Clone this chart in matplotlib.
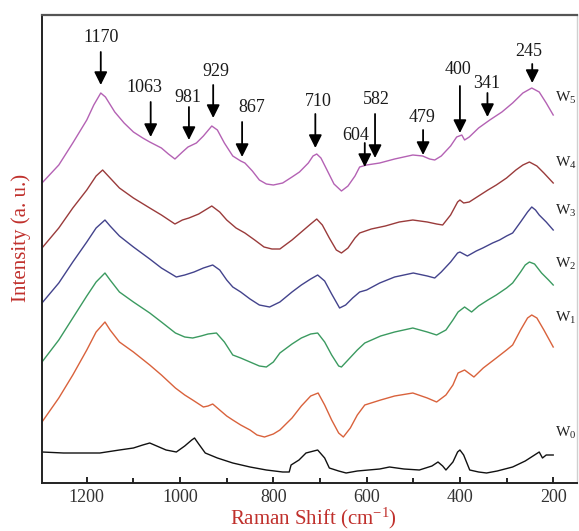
import numpy as np
import matplotlib
matplotlib.use("Agg")
import matplotlib.pyplot as plt

plt.rcParams['font.family'] = ['Liberation Serif', 'DejaVu Serif']
plt.rcParams['mathtext.fontset'] = 'custom'
plt.rcParams['mathtext.rm'] = 'Liberation Serif'
plt.rcParams['mathtext.default'] = 'regular'

# ---------------- data (Raman shift, cm^-1 ; stacked intensity, a.u.) ----------------
x_w5 = [1296,1260,1230,1200,1185,1170,1160,1140,1120,1100,1080,1065,1040,1025,1011,995,983,965,950,932,920,905,887,870,861,845,830,815,800,780,760,744,725,715,707,698,685,670,654,640,625,615,600,572,540,501,480,465,454,440,420,407,396,390,380,360,336,310,287,265,246,230,215,200]
y_w5 = [348,366,388,411,426,438,434,419,408,399,393,389,383,377,372,379,384,388,395,405,401,388,375,370,368,360,351,347,346,348,354,359,368,375,377,373,361,347,340,345,355,364,366,368,372,376,375,372,371,375,385,394,396,391,394,403,411,419,428,438,443,439,428,416]

x_w4 = [1296,1260,1230,1200,1180,1166,1150,1130,1100,1065,1040,1011,995,981,960,932,915,900,880,861,840,820,803,786,760,740,720,707,695,680,665,654,640,625,615,590,560,530,501,470,450,437,420,405,400,392,380,360,340,322,300,280,265,251,235,220,200]
y_w4 = [283,303,323,341,355,361,353,343,333,323,316,307,311,313,317,325,319,311,303,298,291,284,282,282,291,299,307,312,306,293,281,278,283,293,298,302,305,309,311,309,307,306,316,329,331,328,329,335,341,346,353,361,366,369,365,358,348]

x_w3 = [1296,1260,1230,1200,1180,1161,1150,1130,1100,1065,1040,1008,990,970,950,930,915,900,887,870,850,830,808,786,760,740,720,705,690,675,658,645,630,615,600,572,540,500,470,454,440,420,405,400,384,365,351,330,315,300,287,270,255,246,238,230,215,200]
y_w3 = [228,248,269,289,303,311,305,295,284,272,263,254,256,259,263,266,261,251,244,239,232,226,224,229,239,246,252,256,250,237,223,226,233,239,241,248,254,258,255,253,259,269,278,279,275,280,283,288,291,295,298,309,319,324,321,316,309,301]

x_w2 = [1296,1260,1230,1200,1180,1161,1150,1130,1100,1065,1040,1010,990,973,955,940,922,905,887,870,850,830,815,800,786,760,740,720,705,690,675,660,654,640,620,604,570,540,501,470,450,430,415,404,390,375,360,340,322,300,287,270,260,251,240,225,210,200]
y_w2 = [169,191,213,235,249,258,251,239,229,218,209,198,194,193,195,197,198,189,176,173,169,165,164,169,178,187,193,197,198,189,176,165,164,171,181,188,195,199,203,199,196,201,211,219,224,219,225,231,236,243,248,259,266,269,267,258,251,246]

x_w1 = [1296,1260,1230,1200,1180,1161,1150,1130,1100,1065,1040,1010,990,973,950,940,930,915,900,887,870,850,835,819,800,786,760,740,720,704,690,675,660,650,635,620,604,570,540,501,470,450,430,415,404,390,370,350,322,300,287,270,255,246,235,220,200]
y_w1 = [109,133,156,181,199,209,201,189,179,166,156,143,136,131,124,125,127,121,115,111,106,101,96,94,97,101,113,125,135,138,126,111,98,94,103,116,126,131,135,138,133,129,136,146,158,161,154,163,173,181,186,201,213,216,213,201,184]

x_w0 = [1296,1250,1200,1172,1130,1100,1080,1065,1050,1030,1008,990,975,969,960,946,920,887,850,815,780,766,762,745,730,705,690,680,660,644,620,572,551,520,487,460,447,437,430,415,405,400,392,379,360,343,320,287,260,240,230,223,215,200]
y_w0 = [79,78,78,78,81,83,86,88,85,81,79,85,91,93,87,78,73,68,64,61,59,59,66,71,78,81,73,63,60,58,60,62,64,62,61,65,69,65,61,69,79,81,76,61,59,58,60,64,70,76,79,73,76,76]

series_x = [x_w5, x_w4, x_w3, x_w2, x_w1, x_w0]
series_y = [y_w5, y_w4, y_w3, y_w2, y_w1, y_w0]
series_names = ['W$_5$', 'W$_4$', 'W$_3$', 'W$_2$', 'W$_1$', 'W$_0$']

peak_labels = [1170, 1063, 981, 929, 867, 710, 604, 582, 479, 400, 341, 245]

x_ticks = [1200, 1000, 800, 600, 400, 200]
x_minor = [1100, 900, 700, 500, 300]

# ---------------- layout / style ----------------
colors = ['#b462b4', '#9a3b3b', '#43438c', '#3b9a60', '#d9623c', '#111111']
name_y = [433, 368, 320, 267, 213, 98]
arrow_tail = [479, 429, 424, 446, 409, 417, 388, 417, 401, 445, 438, 467]
arrow_tip = [446, 394, 391, 413, 374, 383, 364, 373, 376, 398, 414, 448]
text_x = [1170, 1076, 984, 924, 846, 703, 624, 579, 482, 405, 343, 253]
text_y = [493, 443, 434, 459, 424, 430, 396, 431, 414, 461, 448, 479]

W, H = 579, 531
fig = plt.figure(figsize=(W / 100, H / 100), dpi=100)
ax = fig.add_axes([42 / W, 48 / H, (577 - 42) / W, (483 - 15) / H])

for xs, ys, c in zip(series_x, series_y, colors):
    ax.plot(xs, ys, color=c, lw=1.0)

for name, ny in zip(series_names, name_y):
    ax.text(197, ny, name, fontsize=11, ha='left', va='center', color='#222222')

for p, tx, ty, ta, tp in zip(peak_labels, text_x, text_y, arrow_tail, arrow_tip):
    ax.annotate('', xy=(p, tp), xytext=(p, ta),
                arrowprops=dict(arrowstyle='-|>,head_length=0.6,head_width=0.3',
                                lw=1.3, color='black', shrinkA=0, shrinkB=0,
                                mutation_scale=13))
    ax.text(tx, ty, str(p), fontsize=13, ha='center', va='center', color='#1a1a1a')

ax.set_xlim(1296, 149)
ax.set_ylim(48, 516)
ax.set_xticks(x_ticks)
ax.set_xticks(x_minor, minor=True)
ax.set_yticks([])
ax.tick_params(axis='x', which='major', direction='in', length=4.5, width=1.2,
               labelsize=13, labelcolor='#333333', pad=4, top=False)
ax.tick_params(axis='x', which='minor', direction='in', length=3.5, width=1.2, top=False)

for s in ['left', 'bottom']:
    ax.spines[s].set_color('#222222')
    ax.spines[s].set_linewidth(1.4)
ax.spines['top'].set_color('#555555')
ax.spines['top'].set_linewidth(1.6)
ax.spines['right'].set_color('#d0d0d0')
ax.spines['right'].set_linewidth(1.0)

red = '#c0302c'
ax.set_xlabel('Raman Shift (cm$^{-1}$)', fontsize=15, color=red)
ax.xaxis.set_label_coords((313 - 42) / 535, (483 - 518) / 468)
ax.xaxis.label.set_va('center')
ax.set_ylabel('Intensity (a. u.)', fontsize=15, color=red)
ax.yaxis.set_label_coords((21 - 42) / 535, (483 - 238) / 468)
ax.yaxis.label.set_va('center')

fig.savefig('out.png', dpi=100)
